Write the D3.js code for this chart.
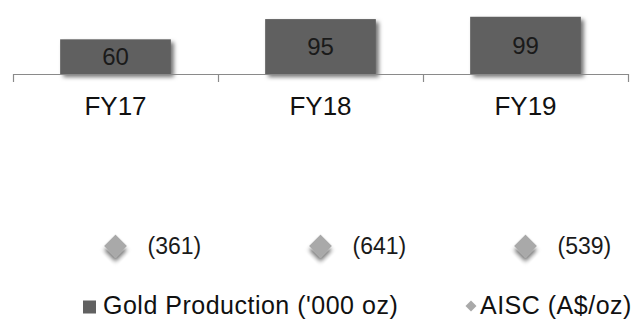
<!DOCTYPE html>
<html>
<head>
<meta charset="utf-8">
<script src="https://cdn.jsdelivr.net/npm/d3@7"></script>
<style>
  html, body { margin: 0; padding: 0; background: #fff; }
  svg { display: block; font-family: "Liberation Sans", Arial, sans-serif; }
</style>
</head>
<body>
<svg id="chart" width="635" height="320"></svg>
<script>
// Fiscal years and the two series
const categories = ["FY17", "FY18", "FY19"];
const goldProduction = [60, 95, 99];      // '000 oz
const aisc = [-361, -641, -539];          // A$/oz
const legendLabels = ["Gold Production ('000 oz)", "AISC (A$/oz)"];

const W = 635, H = 320;
const axisLeft = 13, axisRight = 628, axisY = 74;

const svg = d3.select("#chart");

// soft drop shadow used by bars and markers
const defs = svg.append("defs");
const f = defs.append("filter").attr("id", "shadow")
  .attr("x", "-30%").attr("y", "-30%").attr("width", "170%").attr("height", "170%");
f.append("feDropShadow").attr("dx", 3).attr("dy", 3).attr("stdDeviation", 2.2)
  .attr("flood-color", "#000").attr("flood-opacity", 0.55);

const x = d3.scaleBand().domain(categories)
  .range([axisLeft, axisRight]).paddingInner(0.46).paddingOuter(0.23);
const xBounds = d3.scaleLinear().domain([0, categories.length]).range([axisLeft, axisRight]);
const y = d3.scaleLinear().domain([0, 128]).range([axisY, 0]);

// bars
svg.append("g").selectAll("rect").data(goldProduction).join("rect")
  .attr("x", (d, i) => x(categories[i]))
  .attr("width", x.bandwidth())
  .attr("y", d => y(d))
  .attr("height", d => y(0) - y(d))
  .attr("fill", "#616161")
  .attr("filter", "url(#shadow)");

// value labels centred in bars
svg.append("g").selectAll("text").data(goldProduction).join("text")
  .attr("x", (d, i) => x(categories[i]) + x.bandwidth() / 2)
  .attr("y", d => (y(d) + y(0)) / 2)
  .attr("dy", "0.36em")
  .attr("text-anchor", "middle")
  .attr("font-size", 24)
  .attr("fill", "#1a1a1a")
  .text(d => d);

// category axis: line with boundary ticks
const axisG = svg.append("g").attr("transform", `translate(0,${axisY})`)
  .call(d3.axisBottom(xBounds).tickValues(d3.range(categories.length + 1))
    .tickSize(8).tickSizeOuter(0).tickFormat(""));
axisG.selectAll("path, line").attr("stroke", "#8a8a8a").attr("stroke-width", 1.2);

// category labels
svg.append("g").selectAll("text").data(categories).join("text")
  .attr("x", d => x(d) + x.bandwidth() / 2)
  .attr("y", 115)
  .attr("text-anchor", "middle")
  .attr("font-size", 26)
  .attr("fill", "#111")
  .text(d => d);

// AISC markers row
const rowY = 246;
const fmt = v => v < 0 ? `(${Math.abs(v)})` : `${v}`;
const diamond = d3.symbol().type(d3.symbolSquare).size(260);
const markers = svg.append("g").selectAll("g").data(aisc).join("g")
  .attr("transform", (d, i) => `translate(${x(categories[i]) + x.bandwidth() / 2},${rowY})`);
markers.append("path")
  .attr("d", diamond)
  .attr("transform", "rotate(45)")
  .attr("fill", "#a9a9a9")
  .attr("filter", "url(#shadow)");
markers.append("text")
  .attr("x", 32)
  .attr("dy", "0.36em")
  .attr("font-size", 23)
  .attr("fill", "#1a1a1a")
  .text(d => fmt(d));

// legend
const leg = svg.append("g");
leg.append("rect").attr("x", 83).attr("y", 300.5).attr("width", 13).attr("height", 13)
  .attr("fill", "#616161");
leg.append("text").attr("x", 103).attr("y", 314).attr("font-size", 25)
  .attr("letter-spacing", 0.5).attr("fill", "#111")
  .text(legendLabels[0]);
leg.append("path").attr("d", d3.symbol().type(d3.symbolSquare).size(60))
  .attr("transform", "translate(471,306) rotate(45)").attr("fill", "#a9a9a9");
leg.append("text").attr("x", 480).attr("y", 314).attr("font-size", 25)
  .attr("letter-spacing", 0.5).attr("fill", "#111")
  .text(legendLabels[1]);
</script>
</body>
</html>
